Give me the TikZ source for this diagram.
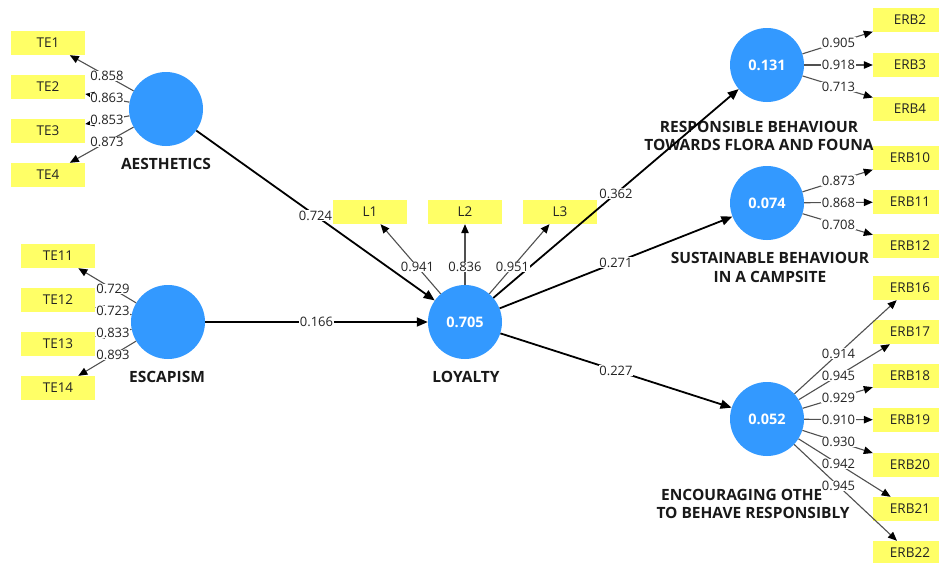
\documentclass[tikz,border=0pt]{standalone}
\usepackage{fontspec}
\setmainfont{Open Sans}
\usetikzlibrary{arrows.meta,calc}
\definecolor{cblue}{RGB}{51,153,255}
\definecolor{cyel}{RGB}{255,255,102}
\definecolor{lgray}{RGB}{80,80,80}
\definecolor{txt}{RGB}{35,35,35}
\tikzset{
  construct/.style={circle,fill=cblue,minimum size=74pt,inner sep=0pt,text=white,font=\fontsize{14.5}{17}\selectfont\bfseries},
  ind/.style={rectangle,fill=cyel,minimum width=74pt,minimum height=24pt,inner sep=0pt,text=txt,font=\fontsize{13.5}{16}\selectfont},
  outer/.style={draw=lgray,line width=1.1pt,-{Triangle[length=9pt,width=7.5pt,color=black]}},
  inner/.style={draw=black,line width=1.8pt,-{Triangle[length=11pt,width=9pt]}},
  lbl/.style={fill=white,inner sep=0.6pt,text=txt,font=\fontsize{13}{15}\selectfont},
  clabel/.style={text=black!90,font=\fontsize{15.5}{18}\selectfont\bfseries,inner sep=0pt}
}
\begin{document}
\begin{tikzpicture}[x=1pt,y=-1pt]
\useasboundingbox[fill=white] (0,0) rectangle (939,562);
% constructs
\node[construct] (A) at (166,109) {};
\node[construct] (E) at (168,322) {};
\node[construct] (LOY) at (465,322) {0.705};
\node[construct] (R1) at (767,65) {0.131};
\node[construct] (R2) at (767,203) {0.074};
\node[construct] (R3) at (767,419) {0.052};
% indicators
\foreach \n/\y in {TE1/43,TE2/87,TE3/131,TE4/175}{\node[ind] (\n) at (48,\y) {\n};}
\foreach \n/\y in {TE11/256,TE12/300,TE13/344,TE14/388}{\node[ind] (\n) at (58,\y) {\n};}
\foreach \n/\x in {L1/370,L2/465,L3/560}{\node[ind] (\n) at (\x,212) {\n};}
\foreach \n/\y in {ERB2/20,ERB3/65,ERB4/109,ERB10/158,ERB11/202,ERB12/246,ERB16/288,ERB17/332,ERB18/376,ERB19/420,ERB20/465,ERB21/509,ERB22/553}{\node[ind] (\n) at (910,\y) {\n};}
% construct labels
\node[clabel] (la) at (166,164) {AESTHETICS};
\node[clabel] (le) at (167,377) {ESCAPISM};
\node[clabel] (ll) at (466,377) {LOYALTY};
\node[clabel] (lr1a) at (759,127) {RESPONSIBLE BEHAVIOUR};
\node[clabel] (lr1b) at (759,145) {TOWARDS FLORA AND FOUNA};
\node[clabel] (lr2a) at (770,258) {SUSTAINABLE BEHAVIOUR};
\node[clabel] (lr2b) at (770,277) {IN A CAMPSITE};
\node[clabel,anchor=west] (lr3a) at (661,495) {ENCOURAGING OTHE};
\node[clabel] (lr3b) at (753,513) {TO BEHAVE RESPONSIBLY};
% outer loadings: lines
\foreach \c/\i in {A/TE1,A/TE2,A/TE3,A/TE4,E/TE11,E/TE12,E/TE13,E/TE14,LOY/L1,LOY/L2,LOY/L3,R1/ERB2,R1/ERB3,R1/ERB4,R2/ERB10,R2/ERB11,R2/ERB12,R3/ERB16,R3/ERB17,R3/ERB18,R3/ERB19,R3/ERB20,R3/ERB21,R3/ERB22}{\draw[outer] (\c) -- (\i);}
% inner paths
\foreach \a/\b in {A/LOY,E/LOY,LOY/R1,LOY/R2,LOY/R3}{\draw[inner] (\a) -- (\b);}
% labels
\foreach \c/\i/\v in {A/TE1/0.858,A/TE2/0.863,A/TE3/0.853,A/TE4/0.873,E/TE11/0.729,E/TE12/0.723,E/TE13/0.833,E/TE14/0.893,LOY/L1/0.941,LOY/L2/0.836,LOY/L3/0.951,R1/ERB2/0.905,R1/ERB3/0.918,R1/ERB4/0.713,R2/ERB10/0.873,R2/ERB11/0.868,R2/ERB12/0.708,R3/ERB16/0.914,R3/ERB17/0.945,R3/ERB18/0.929,R3/ERB19/0.910,R3/ERB20/0.930,R3/ERB21/0.942,R3/ERB22/0.945,A/LOY/0.724,E/LOY/0.166,LOY/R1/0.362,LOY/R2/0.271,LOY/R3/0.227}{\node[lbl] at ($(\c.center)!0.5!(\i.center)$) {\v};}
\end{tikzpicture}
\end{document}
